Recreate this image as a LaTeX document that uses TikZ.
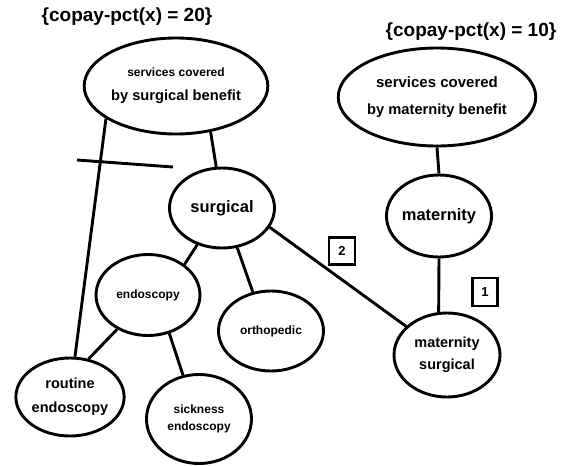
\documentclass[tikz,border=0pt]{standalone}
\usepackage{fontspec}
\setmainfont{Liberation Sans}
\usetikzlibrary{shapes.geometric}

\newcommand{\sz}[2]{\fontsize{#1}{#2}\selectfont}

\begin{document}
\begin{tikzpicture}[x=1pt, y=-1pt, line width=2.9pt,
    class/.style={draw, ellipse, inner sep=0pt, align=center, font=\bfseries},
    tag/.style={draw, rectangle, inner sep=0pt, line width=2.5pt, font=\bfseries\sz{13}{13}}]
  \useasboundingbox (0, 0) rectangle (571, 466);

  % copayment annotations
  \node[font=\bfseries\sz{19}{19}] (pct20) at (127, 17) {\{copay-pct(x) = 20\}};
  \node[font=\bfseries\sz{19}{19}] (pct10) at (471, 32) {\{copay-pct(x) = 10\}};

  % benefit classes
  \node[class, minimum width=165pt, minimum height=96pt, font=\bfseries\sz{14.7}{24}] (sben) at (176, 86)
    {{\sz{12}{24}services covered}\\by surgical benefit};
  \node[class, minimum width=166pt, minimum height=98pt, font=\bfseries\sz{14.7}{27}] (mben) at (437, 97)
    {{\sz{15}{27}services covered}\\by maternity benefit};

  % service classes
  \node[class, minimum width=105pt, minimum height=80pt, font=\bfseries\sz{16.5}{16.5}] (surg) at (222, 208) {surgical};
  \node[class, minimum width=96pt, minimum height=82pt, font=\bfseries\sz{16.5}{16.5}] (mat) at (439, 216) {maternity};
  \node[class, minimum width=104pt, minimum height=81pt, font=\bfseries\sz{12}{12}] (endo) at (148, 295) {endoscopy};
  \node[class, minimum width=105pt, minimum height=80pt, font=\bfseries\sz{12}{12}] (ortho) at (271, 331) {orthopedic};
  \node[class, minimum width=104pt, minimum height=78pt, font=\bfseries\sz{14.5}{24}] (routine) at (70, 397) {routine\\endoscopy};
  \node[class, minimum width=105pt, minimum height=89pt, font=\bfseries\sz{12}{17}] (sick) at (199, 419) {sickness\\endoscopy};
  \node[class, minimum width=106pt, minimum height=84pt, font=\bfseries\sz{14.5}{22}] (matsurg) at (447, 355) {maternity\\surgical};

  % numbered tags
  \node[tag, minimum width=26pt, minimum height=27pt] (tag2) at (342, 251) {2};
  \node[tag, minimum width=25pt, minimum height=28pt] (tag1) at (485, 292) {1};

  % links
  \draw (sben.205) -- (routine.83);
  \draw (sben.307) -- (surg.98);
  \draw (surg.236) -- (endo.40);
  \draw (surg.291) -- (ortho.115);
  \draw (surg.338) -- (matsurg.145);
  \draw (endo.228) -- (routine.64);
  \draw (endo.299) -- (sick.110);
  \draw (mben.south) -- (mat.north);
  \draw (mat.south) -- (matsurg.101);

  % cancel mark across the link
  \coordinate (barL) at (77, 160);
  \coordinate (barR) at (173, 167);
  \draw (barL) -- (barR);
\end{tikzpicture}
\end{document}
